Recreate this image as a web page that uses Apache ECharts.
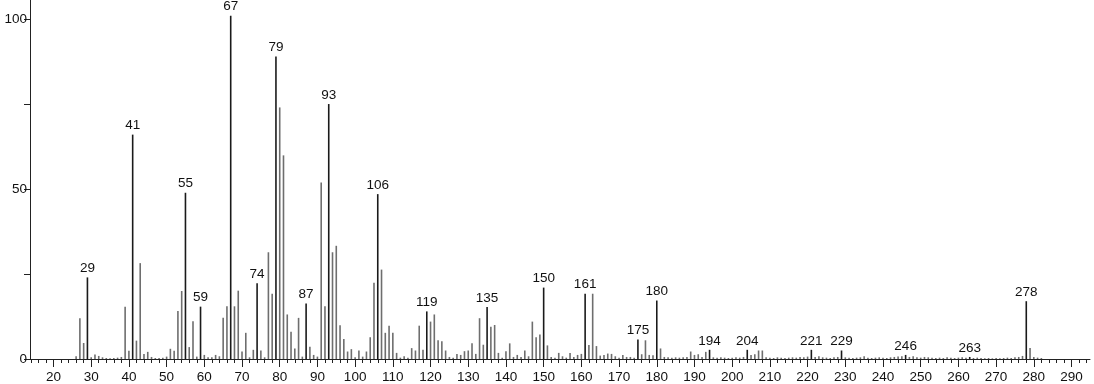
<!DOCTYPE html>
<html>
<head>
<meta charset="utf-8">
<script src="https://cdn.jsdelivr.net/npm/echarts@6/dist/echarts.min.js"></script>
<style>
html,body{margin:0;padding:0;background:#fff;}
#chart{width:1094px;height:384px;}
</style>
</head>
<body>
<div id="chart"></div>
<script>
// m/z values and relative intensities (%)
const peaks = [
[26,0.8],[27,12],[28,4.7],[29,24],[30,0.5],[31,1.3],[32,0.9],[33,0.5],[34,0.3],[35,0.2],
[36,0.3],[37,0.4],[38,0.6],[39,15.4],[40,2.4],[41,66],[42,5.4],[43,28.2],[44,1.5],[45,2.1],
[46,0.6],[47,0.3],[48,0.3],[49,0.4],[50,0.7],[51,3],[52,2.4],[53,14.1],[54,20],[55,48.9],
[56,3.5],[57,11.1],[58,0.7],[59,15.4],[60,1.2],[61,0.5],[62,0.5],[63,1.2],[64,0.8],[65,12.1],
[66,15.5],[67,101],[68,15.5],[69,20.1],[70,2.2],[71,7.7],[72,0.5],[73,2.7],[74,22.3],[75,2.5],
[76,0.5],[77,31.4],[78,19.2],[79,89],[80,74],[81,59.9],[82,13.1],[83,8],[84,3.1],[85,12.1],
[86,0.7],[87,16.3],[88,3.6],[89,1.2],[90,0.7],[91,51.9],[92,15.5],[93,75],[94,31.4],[95,33.3],
[96,9.9],[97,5.9],[98,2.2],[99,2.9],[100,0.5],[101,2.5],[102,0.7],[103,2.2],[104,6.4],[105,22.4],
[106,48.5],[107,26.3],[108,7.7],[109,9.8],[110,7.7],[111,1.8],[112,0.4],[113,0.8],[114,0.4],[115,3.2],
[116,2.5],[117,9.8],[118,2.7],[119,14],[120,11],[121,13.1],[122,5.5],[123,5.2],[124,2.5],[125,0.6],
[126,0.4],[127,1.5],[128,1.2],[129,2.3],[130,2.5],[131,4.6],[132,1.5],[133,12],[134,4.2],[135,15.3],
[136,9.5],[137,10],[138,1.8],[139,0.4],[140,2.3],[141,4.6],[142,0.6],[143,1.2],[144,0.6],[145,2.5],
[146,0.8],[147,11],[148,6.4],[149,7.2],[150,21],[151,4],[152,0.6],[153,0.4],[154,1.8],[155,0.8],
[156,0.4],[157,1.8],[158,0.6],[159,1.2],[160,1.5],[161,19.2],[162,4.1],[163,19.2],[164,3.8],[165,1],
[166,1.2],[167,1.6],[168,1.5],[169,0.8],[170,0.4],[171,1.2],[172,0.6],[173,0.6],[174,0.4],[175,5.7],
[176,1.4],[177,5.5],[178,1.2],[179,1.1],[180,17.2],[181,3.1],[182,0.6],[183,0.5],[184,0.4],[185,0.5],
[186,0.4],[187,0.5],[188,0.6],[189,2.2],[190,1.2],[191,1.4],[192,0.6],[193,2.1],[194,2.7],[195,0.5],
[196,0.4],[197,0.5],[198,0.4],[199,0.3],[200,0.4],[201,0.5],[202,0.4],[203,0.6],[204,2.7],[205,1.2],
[206,1.4],[207,2.5],[208,2.5],[209,0.5],[210,0.4],[211,0.3],[212,0.5],[213,0.4],[214,0.3],[215,0.4],
[216,0.5],[217,0.4],[218,0.6],[219,0.5],[220,0.7],[221,2.7],[222,0.6],[223,0.8],[224,0.5],[225,0.4],
[226,0.3],[227,0.5],[228,0.6],[229,2.5],[230,0.5],[231,0.4],[232,0.3],[233,0.4],[234,0.5],[235,0.8],
[236,0.4],[237,0.3],[238,0.4],[239,0.5],[240,0.4],[241,0.3],[242,0.5],[243,0.6],[244,0.7],[245,0.8],
[246,1.2],[247,0.6],[248,0.8],[249,0.5],[250,0.4],[251,0.6],[252,0.5],[253,0.4],[254,0.3],[255,0.4],
[256,0.3],[257,0.5],[258,0.4],[259,0.3],[260,0.4],[261,0.5],[262,0.4],[263,0.6],[264,0.3],[265,0.4],
[266,0.3],[267,0.2],[268,0.3],[269,0.2],[270,0.3],[271,0.2],[272,0.3],[273,0.4],[274,0.3],[275,0.5],
[276,0.6],[277,0.9],[278,17],[279,3.2],[280,0.6],[281,0.4],[282,0.3]
];
const labeledPeaks = [29,41,55,59,67,74,79,87,93,106,119,135,150,161,175,180,194,204,221,229,246,263,278];
const xTickLabels = [20,30,40,50,60,70,80,90,100,110,120,130,140,150,160,170,180,190,200,210,220,230,240,250,260,270,280,290];
const xMinorTicks = [14,16,18,20,22,24,26,28,30,32,34,36,38,40,42,44,46,48,50,52,54,56,58,60,62,64,66,68,70,72,74,76,78,80,82,84,86,88,90,92,94,96,98,100,102,104,106,108,110,112,114,116,118,120,122,124,126,128,130,132,134,136,138,140,142,144,146,148,150,152,154,156,158,160,162,164,166,168,170,172,174,176,178,180,182,184,186,188,190,192,194,196,198,200,202,204,206,208,210,212,214,216,218,220,222,224,226,228,230,232,234,236,238,240,242,244,246,248,250,252,254,256,258,260,262,264,266,268,270,272,274,276,278,280,282,284,286,288,290,292,294];
const yTickLabels = [0,50,100];
const yTicks = [0,25,50,75,100];

const font = 'Liberation Sans, Arial, sans-serif';
const data = peaks.map(p => {
  const lab = labeledPeaks.indexOf(p[0]) >= 0;
  return {
    value: p,
    itemStyle: {color: lab ? '#1a1a1a' : '#6e6e6e'},
    label: {show: lab}
  };
});

const chart = echarts.init(document.getElementById('chart'), null, {renderer: 'canvas'});
const xMin = 13.77, xMax = 294.9;
chart.setOption({
  animation: false,
  backgroundColor: '#fff',
  grid: {left: 30, right: 4, top: 0, bottom: 24.7, containLabel: false},
  xAxis: [{
    type: 'value', min: xMin, max: xMax, position: 'bottom',
    axisLine: {show: true, lineStyle: {color: '#222', width: 1}},
    axisTick: {show: true, customValues: xMinorTicks, length: 4, lineStyle: {color: '#222'}},
    axisLabel: {show: false},
    splitLine: {show: false}
  }, {
    type: 'value', min: xMin, max: xMax, position: 'bottom', offset: 0,
    axisLine: {show: false},
    axisTick: {show: true, customValues: xTickLabels, length: 8, lineStyle: {color: '#222'}},
    axisLabel: {show: true, customValues: xTickLabels, color: '#111', fontSize: 13.5, fontFamily: font, margin: 11},
    splitLine: {show: false}
  }],
  yAxis: {
    type: 'value', min: 0, max: 105.6,
    axisLine: {show: true, lineStyle: {color: '#222'}},
    axisTick: {show: true, customValues: yTicks, length: 6, lineStyle: {color: '#222'}},
    axisLabel: {show: true, customValues: yTickLabels, color: '#111', fontSize: 13.5, fontFamily: font, margin: 3},
    splitLine: {show: false}
  },
  series: [{
    type: 'bar',
    xAxisIndex: 0,
    barWidth: 1.6,
    data: data,
    label: {
      position: 'top', distance: 2, color: '#111', fontSize: 13.5, fontFamily: font,
      formatter: p => String(p.value[0])
    }
  }]
});
</script>
</body>
</html>
